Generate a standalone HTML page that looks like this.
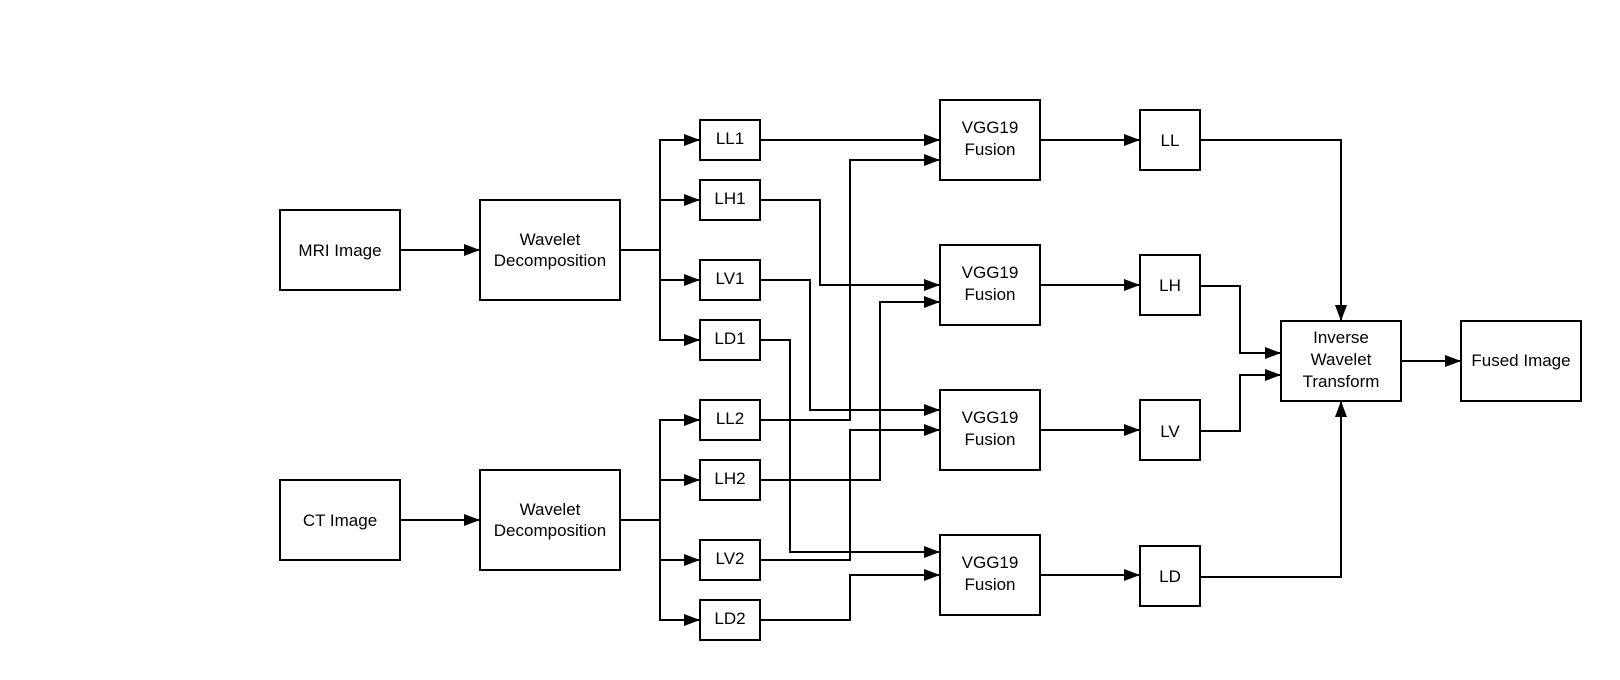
<!DOCTYPE html>
<html><head><style>body{margin:0;background:#fff}svg{display:block}</style></head><body>
<svg width="1620" height="680" xmlns="http://www.w3.org/2000/svg" font-family="Liberation Sans, sans-serif" font-size="17">
<defs><marker id="a" markerWidth="16" markerHeight="12" refX="15" refY="6" orient="auto" markerUnits="userSpaceOnUse"><path d="M0,0 L16,6 L0,12 z" fill="#000"/></marker></defs>
<rect width="1620" height="680" fill="#fff"/>
<g fill="#fff" stroke="#000" stroke-width="2">
<rect x="280" y="210" width="120" height="80"/>
<rect x="480" y="200" width="140" height="100"/>
<rect x="280" y="480" width="120" height="80"/>
<rect x="480" y="470" width="140" height="100"/>
<rect x="700" y="120" width="60" height="40"/>
<rect x="700" y="180" width="60" height="40"/>
<rect x="700" y="260" width="60" height="40"/>
<rect x="700" y="320" width="60" height="40"/>
<rect x="700" y="400" width="60" height="40"/>
<rect x="700" y="460" width="60" height="40"/>
<rect x="700" y="540" width="60" height="40"/>
<rect x="700" y="600" width="60" height="40"/>
<rect x="940" y="100" width="100" height="80"/>
<rect x="940" y="245" width="100" height="80"/>
<rect x="940" y="390" width="100" height="80"/>
<rect x="940" y="535" width="100" height="80"/>
<rect x="1140" y="110" width="60" height="60"/>
<rect x="1140" y="255" width="60" height="60"/>
<rect x="1140" y="400" width="60" height="60"/>
<rect x="1140" y="546" width="60" height="60"/>
<rect x="1281" y="321" width="120" height="80"/>
<rect x="1461" y="321" width="120" height="80"/>
</g>
<g fill="none" stroke="#000" stroke-width="2" marker-end="url(#a)">
<path d="M400 250H479"/><path d="M400 520H479"/>
<path d="M620 250H660V140H699"/><path d="M660 200H699"/><path d="M660 250V280H699"/><path d="M660 280V340H699"/>
<path d="M620 520H660V420H699"/><path d="M660 480H699"/><path d="M660 520V560H699"/><path d="M660 560V620H699"/>
<path d="M760 140H939"/>
<path d="M760 420H850V160H939"/>
<path d="M760 200H820V285H939"/>
<path d="M760 480H880V302H939"/>
<path d="M760 280H810V410H939"/>
<path d="M760 560H850V430H939"/>
<path d="M760 340H790V552H939"/>
<path d="M760 620H850V575H939"/>
<path d="M1040 140H1139"/><path d="M1040 285H1139"/><path d="M1040 430H1139"/><path d="M1040 575H1139"/>
<path d="M1200 140H1341V320"/>
<path d="M1200 286H1240V353H1280"/>
<path d="M1200 431H1240V375H1280"/>
<path d="M1200 577H1341V402"/>
<path d="M1401 361H1460"/>
</g>
<g text-anchor="middle" fill="#000">
<text x="340" y="256">MRI Image</text>
<text x="340" y="526">CT Image</text>
<text x="550" y="245">Wavelet</text><text x="550" y="266">Decomposition</text>
<text x="550" y="515">Wavelet</text><text x="550" y="536">Decomposition</text>
<text x="730" y="144">LL1</text><text x="730" y="204">LH1</text><text x="730" y="284">LV1</text><text x="730" y="344">LD1</text>
<text x="730" y="424">LL2</text><text x="730" y="484">LH2</text><text x="730" y="564">LV2</text><text x="730" y="624">LD2</text>
<text x="990" y="133">VGG19</text><text x="990" y="155">Fusion</text>
<text x="990" y="278">VGG19</text><text x="990" y="300">Fusion</text>
<text x="990" y="423">VGG19</text><text x="990" y="445">Fusion</text>
<text x="990" y="568">VGG19</text><text x="990" y="590">Fusion</text>
<text x="1170" y="146">LL</text><text x="1170" y="291">LH</text><text x="1170" y="437">LV</text><text x="1170" y="582">LD</text>
<text x="1341" y="343">Inverse</text><text x="1341" y="365">Wavelet</text><text x="1341" y="387">Transform</text>
<text x="1521" y="366">Fused Image</text>
</g>
</svg>
</body></html>
